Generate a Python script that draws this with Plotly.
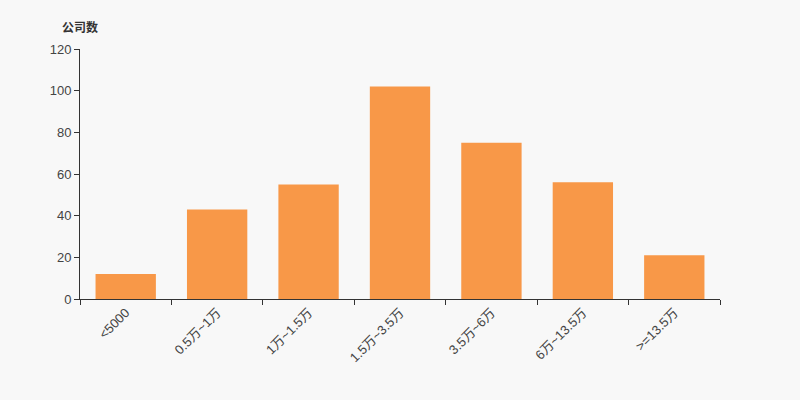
import plotly.graph_objects as go

categories = ["<5000", "0.5万~1万", "1万~1.5万", "1.5万~3.5万", "3.5万~6万", "6万~13.5万", ">=13.5万"]
values = [12, 43, 55, 102, 75, 56, 21]
y_ticks = [0, 20, 40, 60, 80, 100, 120]

font = "Liberation Sans, Arial, Noto Sans CJK SC, sans-serif"

fig = go.Figure(go.Bar(
    x=categories, y=values,
    marker=dict(color="#f89848", line=dict(width=0)),
    hoverinfo="x+y",
))

fig.update_layout(
    width=800, height=400,
    margin=dict(l=80, r=80, t=49, b=101),
    paper_bgcolor="#f8f8f8", plot_bgcolor="#f8f8f8",
    bargap=0.34,
    showlegend=False,
    font=dict(family=font, size=12, color="#444"),
    annotations=[dict(
        text="<b>公司数</b>", xref="paper", yref="paper", x=0, y=1,
        xanchor="center", yanchor="bottom", yshift=12, showarrow=False,
        font=dict(family="Noto Sans CJK SC, sans-serif", size=12, color="#333"),
    )],
)
fig.update_xaxes(
    type="category", tickson="boundaries", ticks="outside", ticklen=5,
    tickcolor="#333", showline=True, linecolor="#333", linewidth=1,
    showgrid=False, tickangle=-45, tickfont=dict(size=13, color="#444"),
    range=[-0.5, len(categories) - 0.5],
)
fig.update_yaxes(
    range=[0, 120], tickvals=y_ticks, ticks="outside", ticklen=5,
    tickcolor="#333", showline=True, linecolor="#333", linewidth=1,
    showgrid=False, zeroline=False, tickfont=dict(size=13, color="#444"),
)

fig.write_html(
    "out.html",
    config={"displayModeBar": False},
    post_script="document.body.style.margin='0';document.body.style.background='#f8f8f8';",
)
